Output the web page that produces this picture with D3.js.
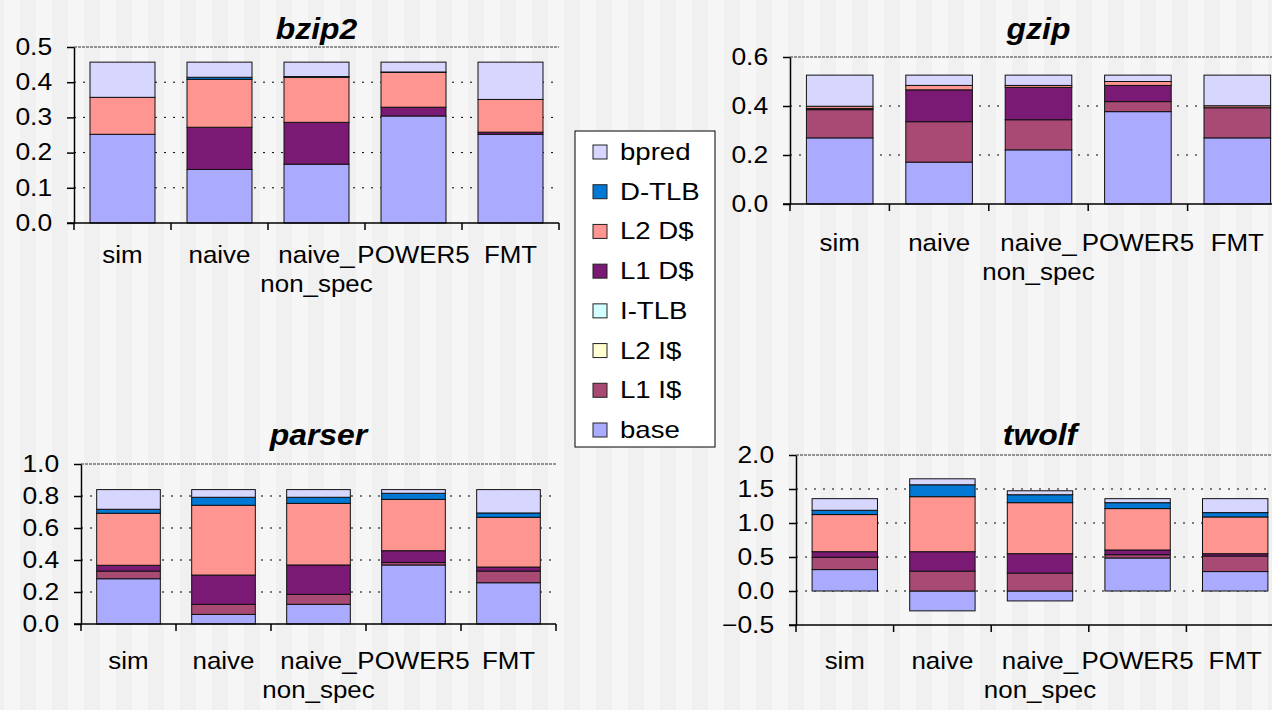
<!DOCTYPE html>
<html>
<head>
<meta charset="utf-8">
<script src="https://cdn.jsdelivr.net/npm/d3@7"></script>
<style>
  body { margin: 0; background: #f3f3f3; }
  svg { display: block; }
  text { font-family: "Liberation Sans", Arial, sans-serif; fill: #000; }
</style>
</head>
<body>
<svg width="1272" height="710"></svg>
<script>
// categories and the way their labels wrap
let categories = ['sim', 'naive', 'naive_non_spec', 'POWER5', 'FMT']
let categoryLines = [['sim'], ['naive'], ['naive_', 'non_spec'], ['POWER5'], ['FMT']]

// stacking order, bottom to top
let seriesNames = ['base', 'L1 I$', 'L2 I$', 'I-TLB', 'L1 D$', 'L2 D$', 'D-TLB', 'bpred']
let seriesColors = ['#aaaaff', '#a84a74', '#ffffd2', '#d2ffff', '#7a1a74', '#ff9590', '#0078d4', '#d6d6ff']

// rows follow seriesNames, columns follow categories
let bzip2Values = [
  [0.252, 0.152, 0.167, 0.304, 0.252],
  [0, 0, 0, 0, 0],
  [0, 0, 0, 0, 0],
  [0, 0, 0, 0, 0],
  [0, 0.120, 0.119, 0.025, 0.006],
  [0.105, 0.136, 0.128, 0.099, 0.093],
  [0, 0.006, 0.002, 0.001, 0],
  [0.100, 0.043, 0.041, 0.028, 0.106]
]
let gzipValues = [
  [0.270, 0.171, 0.221, 0.377, 0.270],
  [0.115, 0.165, 0.123, 0.041, 0.123],
  [0, 0, 0, 0, 0],
  [0, 0, 0, 0, 0],
  [0.005, 0.130, 0.132, 0.066, 0],
  [0.009, 0.018, 0.008, 0.016, 0.008],
  [0, 0, 0, 0, 0],
  [0.127, 0.042, 0.042, 0.026, 0.125]
]
let parserValues = [
  [0.283, 0.060, 0.123, 0.369, 0.258],
  [0.048, 0.063, 0.062, 0.016, 0.073],
  [0, 0, 0, 0, 0],
  [0, 0, 0, 0, 0],
  [0.036, 0.183, 0.184, 0.073, 0.025],
  [0.325, 0.436, 0.385, 0.321, 0.311],
  [0.025, 0.050, 0.038, 0.038, 0.027],
  [0.123, 0.048, 0.048, 0.023, 0.146]
]
let twolfValues = [
  [0.315, -0.292, -0.146, 0.486, 0.286],
  [0.181, 0.292, 0.263, 0.048, 0.229],
  [0, 0, 0, 0, 0],
  [0, 0, 0, 0, 0],
  [0.082, 0.286, 0.286, 0.069, 0.034],
  [0.546, 0.809, 0.750, 0.609, 0.540],
  [0.063, 0.175, 0.117, 0.087, 0.064],
  [0.171, 0.088, 0.058, 0.059, 0.205]
]

let bzip2Ticks = [0, 0.1, 0.2, 0.3, 0.4, 0.5]
let gzipTicks = [0, 0.2, 0.4, 0.6]
let parserTicks = [0, 0.2, 0.4, 0.6, 0.8, 1.0]
let twolfTicks = [-0.5, 0, 0.5, 1.0, 1.5, 2.0]

let svg = d3.select('svg')

// striped background
let pat = svg.append('defs').append('pattern')
  .attr('id', 'stripes')
  .attr('patternUnits', 'userSpaceOnUse')
  .attr('width', 32).attr('height', 10)
  .attr('x', 4)
pat.append('rect').attr('width', 32).attr('height', 10).attr('fill', '#f0f0f0')
pat.append('rect').attr('width', 16).attr('height', 10).attr('fill', '#f6f6f6')
svg.append('rect').attr('width', 1272).attr('height', 710).attr('fill', 'url(#stripes)')

let charts = [
  { title: 'bzip2', values: bzip2Values, ticks: bzip2Ticks, left: 74, width: 485, top: 47, bottom: 223, titleY: 39, labelY: 263 },
  { title: 'gzip', values: gzipValues, ticks: gzipTicks, left: 790, width: 497, top: 57, bottom: 204, titleY: 39, labelY: 251 },
  { title: 'parser', values: parserValues, ticks: parserTicks, left: 81, width: 475, top: 464, bottom: 624, titleY: 445, labelY: 669 },
  { title: 'twolf', values: twolfValues, ticks: twolfTicks, left: 796, width: 488, top: 455, bottom: 625, titleY: 445, labelY: 669 }
]

let stack = d3.stack()
  .keys(d3.range(seriesNames.length))
  .value((d, k) => d[k])
  .offset(d3.stackOffsetDiverging)

charts.forEach(c => {
  let g = svg.append('g')

  let x = d3.scaleBand()
    .domain(categories)
    .range([c.left, c.left + c.width])
    .paddingInner(0.33)
    .paddingOuter(0.165)

  let y = d3.scaleLinear()
    .domain([c.ticks[0], c.ticks[c.ticks.length - 1]])
    .range([c.bottom, c.top])

  let last = c.ticks.length - 2

  // gridlines
  g.append('g')
    .selectAll('line')
    .data(c.ticks.slice(1))
    .enter()
    .append('line')
    .attr('x1', c.left).attr('x2', c.left + c.width)
    .attr('y1', d => y(d)).attr('y2', d => y(d))
    .attr('stroke', (d, i) => i === last ? '#333' : '#000')
    .attr('stroke-width', 1)
    .attr('stroke-dasharray', (d, i) => i === last ? '3,1' : '2,7')

  // bars
  let rows = categories.map((cat, i) => {
    let r = c.values.map(s => s[i])
    r.cat = cat
    return r
  })
  let layers = stack(rows)

  g.append('g')
    .selectAll('g')
    .data(layers)
    .enter()
    .append('g')
    .attr('fill', (d, i) => seriesColors[i])
    .selectAll('rect')
    .data(d => d.filter(p => p[1] !== p[0]))
    .enter()
    .append('rect')
    .attr('x', d => x(d.data.cat))
    .attr('width', x.bandwidth())
    .attr('y', d => y(Math.max(d[0], d[1])))
    .attr('height', d => Math.abs(y(d[0]) - y(d[1])))
    .attr('stroke', '#111')
    .attr('stroke-width', 1)

  // y axis
  let yAxis = d3.axisLeft(y)
    .tickValues(c.ticks)
    .tickSize(7)
    .tickSizeOuter(0)
    .tickPadding(12)
    .tickFormat(d3.format('.1f'))
  let ya = g.append('g')
    .attr('transform', 'translate(' + c.left + ',0)')
    .call(yAxis)
  ya.selectAll('path, line').attr('stroke', '#000').attr('stroke-width', 1.5)
  ya.selectAll('.tick text')
    .style('font-size', '23px')
    .style('font-family', '"Liberation Sans", Arial, sans-serif')
    .attr('transform', 'scale(1.15,1)')

  // x axis
  g.append('line')
    .attr('x1', c.left - 7).attr('x2', c.left + c.width)
    .attr('y1', c.bottom).attr('y2', c.bottom)
    .attr('stroke', '#000').attr('stroke-width', 1.5)
  g.append('g')
    .selectAll('line')
    .data(d3.range(categories.length + 1))
    .enter()
    .append('line')
    .attr('x1', i => c.left + i * x.step())
    .attr('x2', i => c.left + i * x.step())
    .attr('y1', c.bottom).attr('y2', c.bottom + 7)
    .attr('stroke', '#000').attr('stroke-width', 1.5)

  // category labels
  categories.forEach((cat, i) => {
    categoryLines[i].forEach((line, j) => {
      g.append('text')
        .attr('transform', 'translate(' + (x(cat) + x.bandwidth() / 2) + ',' + (c.labelY + j * 29) + ') scale(1.08,1)')
        .attr('text-anchor', 'middle')
        .style('font-size', '24px')
        .text(line)
    })
  })

  // title
  g.append('text')
    .attr('transform', 'translate(' + (c.left + c.width / 2) + ',' + c.titleY + ') scale(1.1,1)')
    .attr('text-anchor', 'middle')
    .style('font-size', '29px')
    .style('font-weight', 'bold')
    .style('font-style', 'italic')
    .text(c.title)
})

// legend
let legend = svg.append('g')
legend.append('rect')
  .attr('x', 575).attr('y', 131)
  .attr('width', 140).attr('height', 316)
  .attr('fill', '#fff').attr('stroke', '#000')

let legendItems = seriesNames.map((n, i) => ({ name: n, color: seriesColors[i] })).reverse()
let ly = d3.scalePoint()
  .domain(legendItems.map(d => d.name))
  .range([152, 430])

let li = legend.selectAll('.item')
  .data(legendItems)
  .enter()
  .append('g')
  .attr('class', 'item')
  .attr('transform', d => 'translate(593,' + ly(d.name) + ')')
li.append('rect')
  .attr('x', 0).attr('y', -7)
  .attr('width', 14).attr('height', 14)
  .attr('fill', d => d.color)
  .attr('stroke', '#222')
li.append('text')
  .attr('transform', 'translate(27,8) scale(1.2,1)')
  .style('font-size', '23px')
  .text(d => d.name)
</script>
</body>
</html>
